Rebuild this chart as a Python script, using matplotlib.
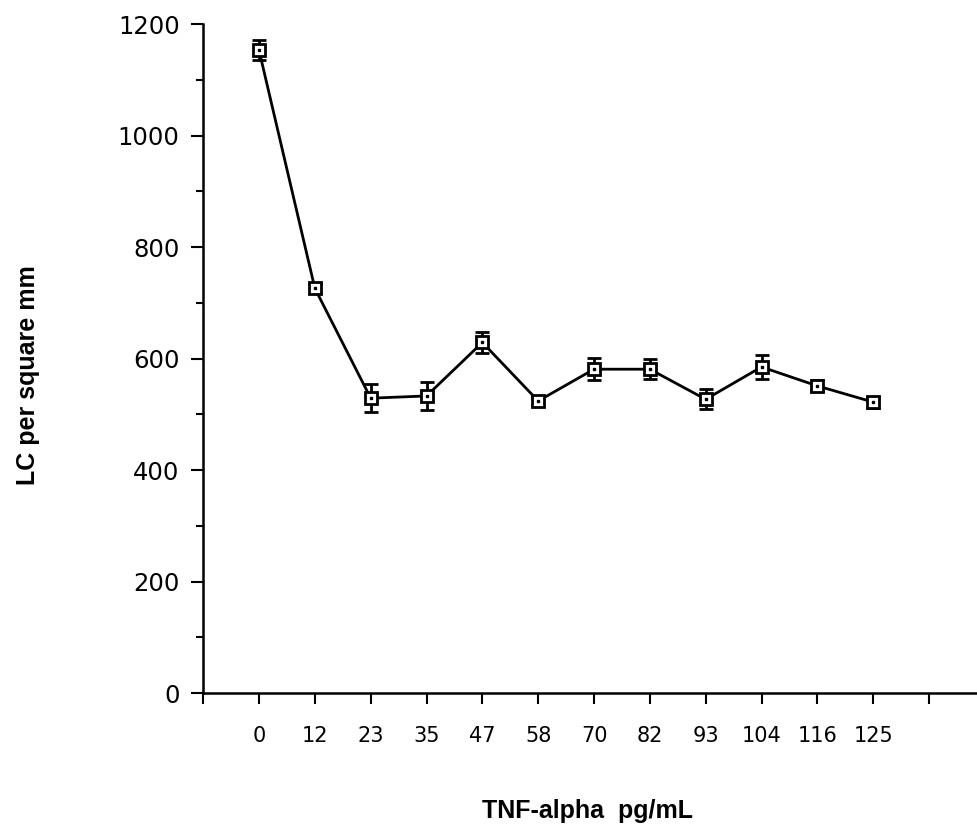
import numpy as np
import matplotlib
matplotlib.use("Agg")
import matplotlib.pyplot as plt
from matplotlib.ticker import MultipleLocator

# TNF-alpha dose (pg/mL) and LC density
doses = ["0", "12", "23", "35", "47", "58", "70", "82", "93", "104", "116", "125"]
lc_per_mm2 = [1153, 726, 529, 533, 629, 524, 581, 581, 527, 585, 551, 522]
lc_err = [18, 8, 25, 25, 19, 8, 20, 18, 18, 22, 10, 10]

plt.rcParams["font.family"] = ["Liberation Sans", "DejaVu Sans"]

fig = plt.figure(figsize=(9.77, 8.33), dpi=100)
ax = fig.add_axes([0.208, 0.168, 0.792, 0.803])

pos = np.arange(len(doses))

ax.errorbar(
    pos,
    lc_per_mm2,
    yerr=lc_err,
    color="black",
    linewidth=2.0,
    elinewidth=2.0,
    capsize=5,
    capthick=2.0,
    marker="s",
    markersize=8.5,
    markerfacecolor="white",
    markeredgecolor="black",
    markeredgewidth=2.0,
    zorder=3,
)
ax.plot(pos, lc_per_mm2, linestyle="none", marker="s", markersize=2,
        color="black", zorder=4)

ax.set_xlim(-1, 12.86)
ax.set_ylim(0, 1200)

ax.set_xticks(np.arange(-1, 13))
ax.set_xticklabels([""] + doses + [""])
ax.yaxis.set_major_locator(MultipleLocator(200))
ax.yaxis.set_minor_locator(MultipleLocator(100))

for side in ["top", "right"]:
    ax.spines[side].set_visible(False)
for side in ["left", "bottom"]:
    ax.spines[side].set_linewidth(1.8)
    ax.spines[side].set_color("black")

ax.tick_params(axis="x", direction="out", length=8, width=1.5, pad=16)
ax.tick_params(axis="y", which="major", direction="out", length=9,
               width=1.5, pad=8)
ax.tick_params(axis="y", which="minor", direction="out", length=5,
               width=1.5)
for lbl in ax.get_xticklabels():
    lbl.set_fontfamily("DejaVu Sans")
    lbl.set_fontsize(15)
for lbl in ax.get_yticklabels():
    lbl.set_fontfamily("DejaVu Sans")
    lbl.set_fontsize(17.5)

ax.set_xlabel("TNF-alpha  pg/mL", fontsize=18, fontweight="bold")
ax.set_ylabel("LC per square mm", fontsize=18, fontweight="bold")
ax.xaxis.set_label_coords(0.497, -0.158)
ax.yaxis.set_label_coords(-0.211, 0.475)

fig.savefig("out.png", dpi=100)
plt.close(fig)
